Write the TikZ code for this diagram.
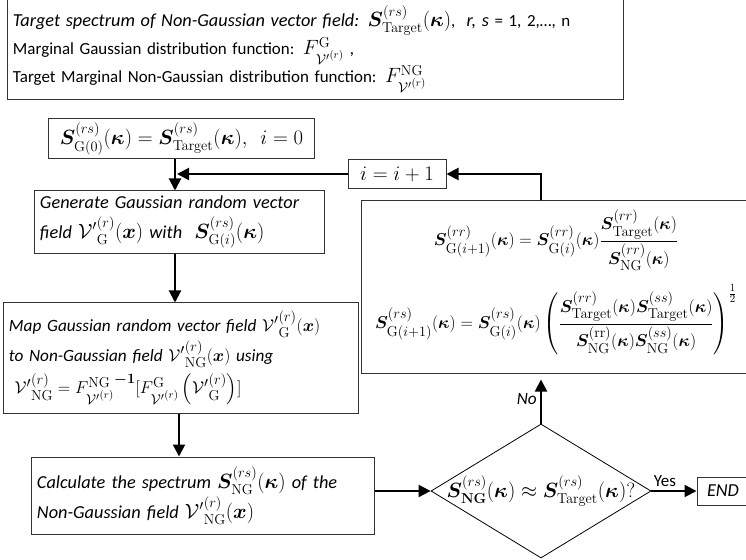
\documentclass[tikz,border=0pt]{standalone}
\usepackage{amsmath,bm}
\usepackage[no-math]{fontspec}
\setmainfont{Carlito}[ItalicFeatures={Scale=1.08}]
\usetikzlibrary{arrows.meta,shapes.geometric}

\DeclareMathSizes{16}{19}{13.5}{10.5}
\DeclareMathSizes{17}{19.5}{14}{11}
\newcommand{\picfont}{\fontsize{16}{30}\selectfont}
\newcommand{\bigfont}{\fontsize{17}{30}\selectfont}
\newcommand{\Vp}{{\mathcal{V}'}}
\newcommand{\Sv}{\bm{S}}
\newcommand{\kv}{(\bm{\kappa})}

\begin{document}
\begin{tikzpicture}[x=1bp,y=-1bp,font=\picfont,
  box/.style={draw=black!80, line width=1bp, inner xsep=5bp, inner ysep=2bp},
  itbox/.style={box, align=left, font=\picfont\itshape},
  arr/.style={-{Triangle[length=12bp,width=12bp]}, line width=2bp}]
\useasboundingbox (0,0) rectangle (746,560);

\node (info) at (315.5,49) [box, minimum width=615bp, minimum height=102bp, text width=605bp, align=left, font=\fontsize{17}{28}\selectfont]{\textit{Target spectrum of Non-Gaussian vector field:} $\Sv^{(rs)}_{\mathrm{Target}}\kv$,\ \ \textit{r, s} = 1, 2,…, n\\
Marginal Gaussian distribution function: $F^{\mathrm{G}}_{\Vp^{(r)}}$ ,\\
Target Marginal Non-Gaussian distribution function: $F^{\mathrm{NG}}_{\Vp^{(r)}}$};

\node (init) at (181.5,139) [box, minimum width=265bp, minimum height=40bp, font=\fontsize{21}{24}\selectfont]{$\Sv^{(rs)}_{\mathrm{G}(0)}\kv = \Sv^{(rs)}_{\mathrm{Target}}\kv,\ \ i=0$};

\node (iinc) at (397,174) [box, minimum width=98bp, minimum height=29bp, font=\fontsize{20}{24}\selectfont]{$i=i+1$};

\node (gen) at (179.5,222) [itbox, minimum width=289bp, minimum height=62bp, text width=279bp, font=\bigfont\itshape]{Generate Gaussian random vector\\ field $\Vp^{(r)}_{\mathrm{G}}(\bm{x})$ with \ $\Sv^{(rs)}_{\mathrm{G}(i)}\kv$};

\node (upd) at (561,287) [box, minimum width=400bp, minimum height=172bp]{};
\node (eqa) at (556,240) {$\Sv^{(rr)}_{\mathrm{G}(i+1)}\kv = \Sv^{(rr)}_{\mathrm{G}(i)}\kv\dfrac{\Sv^{(rr)}_{\mathrm{Target}}\kv}{\Sv^{(rr)}_{\mathrm{NG}}\kv}$};
\node (eqb) at (556,320) {$\Sv^{(rs)}_{\mathrm{G}(i+1)}\kv = \Sv^{(rs)}_{\mathrm{G}(i)}\kv\left(\dfrac{\Sv^{(rr)}_{\mathrm{Target}}\kv\Sv^{(ss)}_{\mathrm{Target}}\kv}{\Sv^{(\mathrm{rr})}_{\mathrm{NG}}\kv\Sv^{(ss)}_{\mathrm{NG}}\kv}\right)^{\frac{1}{2}}$};

\node (map) at (181,358) [itbox, minimum width=354bp, minimum height=110bp, text width=344bp]{Map Gaussian random vector field $\Vp^{(r)}_{\mathrm{G}}(\bm{x})$\\ to Non-Gaussian field $\Vp^{(r)}_{\mathrm{NG}}(\bm{x})$ using\\[3bp]
\ $\Vp^{(r)}_{\mathrm{NG}} = {F^{\mathrm{NG}}_{\Vp^{(r)}}}^{\bm{-1}}[F^{\mathrm{G}}_{\Vp^{(r)}}\left(\Vp^{(r)}_{\mathrm{G}}\right)]$};

\node (calc) at (203,495.5) [itbox, minimum width=342bp, minimum height=77bp, text width=332bp, font=\bigfont\itshape]{Calculate the spectrum $\Sv^{(rs)}_{\mathrm{NG}}\kv$ of the\\ Non-Gaussian field $\Vp^{(r)}_{\mathrm{NG}}(\bm{x})$};

\node (dec) at (541,491) [draw, line width=0.8bp, shape=diamond, minimum width=220bp, minimum height=134bp, inner sep=0pt]{};
\node (dectxt) at (dec.center) [font=\fontsize{21}{24}\selectfont]{$\Sv^{(rs)}_{\mathbf{NG}}\kv \approx \Sv^{(rs)}_{\mathrm{Target}}\kv?$};

\node (endb) at (723,491) [box, minimum width=52bp, minimum height=28bp, font=\bigfont\itshape]{END};

\draw [arr] ([xshift=-6.5bp]init.south) -- ([xshift=-6.5bp]init.south |- gen.north);
\coordinate (merge) at (177,174);
\draw [arr] (iinc.west) -- (merge);
\draw [arr] (dec.north |- upd.north) |- (iinc.east);
\draw [arr] ([xshift=-4.5bp]gen.south) -- ([xshift=-4.5bp]gen.south |- map.north);
\draw [arr] ([xshift=-2bp]map.south) -- ([xshift=-2bp]map.south |- calc.north);
\draw [arr] (calc.east |- dec.west) -- (dec.west);
\draw [arr, shorten >=6bp] (dec.north) -- node[left, font=\picfont\itshape]{No} (dec.north |- upd.south);
\draw [arr] (dec.east) -- node[above, pos=0.3, font=\bigfont]{Yes} (endb.west);
\end{tikzpicture}
\end{document}
